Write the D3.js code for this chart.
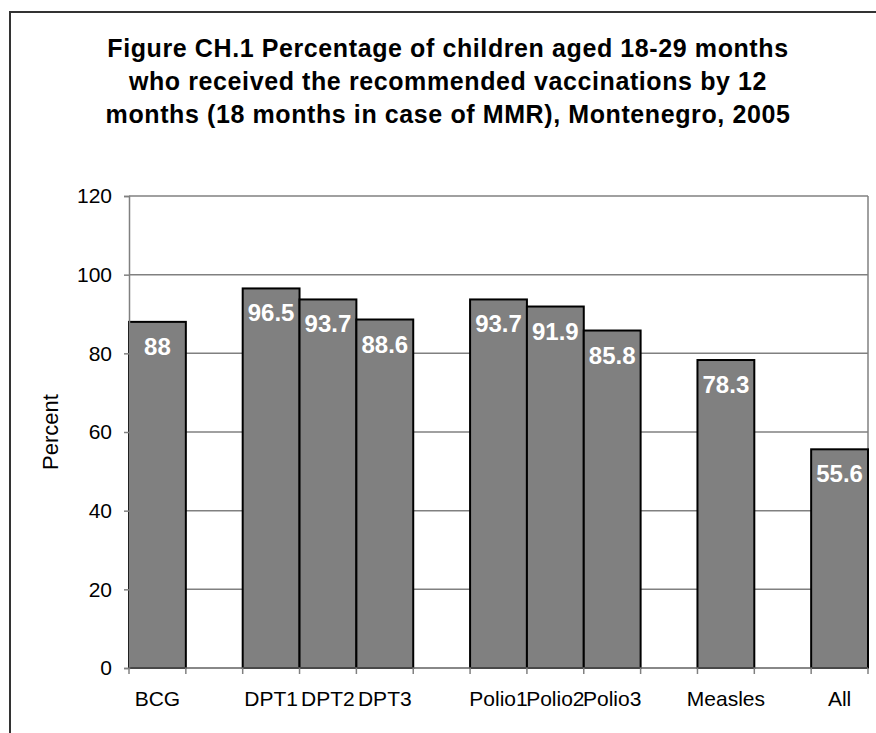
<!DOCTYPE html>
<html>
<head>
<meta charset="utf-8">
<script src="https://cdn.jsdelivr.net/npm/d3@7"></script>
<style>
  body { margin: 0; background: #fff; }
  text { font-family: "Liberation Sans", Arial, sans-serif; }
</style>
</head>
<body>
<svg id="container"></svg>
<script>
const titleLines = [
    'Figure CH.1 Percentage of children aged 18-29 months',
    'who received the recommended vaccinations by 12',
    'months (18 months in case of MMR), Montenegro, 2005'
];
// blank slots are the gaps between groups
const categories = ['BCG', '', 'DPT1', 'DPT2', 'DPT3', '', 'Polio1', 'Polio2', 'Polio3', '', 'Measles', '', 'All'];
const values = [88, null, 96.5, 93.7, 88.6, null, 93.7, 91.9, 85.8, null, 78.3, null, 55.6];
const yTicks = [0, 20, 40, 60, 80, 100, 120];

const width = 876;
const height = 733;
const margin = {left: 129, right: 8, top: 196, bottom: 65};

const svg = d3.select('#container')
    .attr('width', width)
    .attr('height', height);

// outer frame
svg.append('rect')
    .attr('x', 10).attr('y', 12)
    .attr('width', width).attr('height', height)
    .attr('fill', 'none')
    .attr('stroke', '#333')
    .attr('stroke-width', 2);

svg.append('text')
    .attr('text-anchor', 'middle')
    .attr('font-weight', 'bold')
    .attr('font-size', 25)
    .attr('letter-spacing', 0.6)
    .selectAll('tspan')
    .data(titleLines)
    .enter()
    .append('tspan')
    .attr('x', 448)
    .attr('y', (d, i) => 57 + i * 33)
    .text(d => d);

const x = d3.scaleBand()
    .domain(d3.range(categories.length))
    .range([margin.left, width - margin.right]);

const y = d3.scaleLinear()
    .domain([0, 120])
    .range([height - margin.bottom, margin.top]);

// gridlines
svg.append('g')
    .selectAll('line')
    .data(yTicks.filter(t => t > 0))
    .enter()
    .append('line')
    .attr('x1', margin.left)
    .attr('x2', width - margin.right)
    .attr('y1', d => y(d))
    .attr('y2', d => y(d))
    .attr('stroke', '#808080')
    .attr('stroke-width', 1.5);

// right edge of plot area
svg.append('line')
    .attr('x1', width - margin.right).attr('x2', width - margin.right)
    .attr('y1', y(120)).attr('y2', y(0))
    .attr('stroke', '#808080')
    .attr('stroke-width', 1.5);

const data = categories.map((c, i) => ({i: i, name: c, value: values[i]}));

svg.append('g')
    .selectAll('rect')
    .data(data.filter(d => d.value !== null))
    .enter()
    .append('rect')
    .attr('x', d => x(d.i))
    .attr('width', x.bandwidth())
    .attr('y', d => y(d.value))
    .attr('height', d => y(0) - y(d.value))
    .attr('fill', '#808080')
    .attr('stroke', '#000')
    .attr('stroke-width', 2);

svg.append('g')
    .selectAll('text')
    .data(data.filter(d => d.value !== null))
    .enter()
    .append('text')
    .attr('x', d => x(d.i) + x.bandwidth() / 2)
    .attr('y', d => y(d.value) + 33)
    .attr('text-anchor', 'middle')
    .attr('font-weight', 'bold')
    .attr('font-size', 24)
    .attr('fill', '#fff')
    .text(d => d.value);

// y axis
const yAxis = svg.append('g')
    .attr('transform', 'translate(' + margin.left + ',0)')
    .call(d3.axisLeft(y).tickValues(yTicks).tickSize(5).tickPadding(12));
yAxis.select('.domain').attr('stroke', '#808080').attr('stroke-width', 1.5);
yAxis.selectAll('.tick line').attr('stroke', '#808080').attr('stroke-width', 1.5);
yAxis.selectAll('.tick text')
    .attr('font-size', 21)
    .attr('font-family', '"Liberation Sans", Arial, sans-serif')
    .attr('fill', '#000');

// x axis: ticks on slot boundaries
const xg = svg.append('g');
xg.append('line')
    .attr('x1', margin.left).attr('x2', width - margin.right)
    .attr('y1', y(0)).attr('y2', y(0))
    .attr('stroke', '#606060')
    .attr('stroke-width', 1.5);
xg.selectAll('line.tick')
    .data(d3.range(categories.length + 1))
    .enter()
    .append('line')
    .attr('class', 'tick')
    .attr('x1', d => margin.left + d * x.step())
    .attr('x2', d => margin.left + d * x.step())
    .attr('y1', y(0))
    .attr('y2', y(0) + 6)
    .attr('stroke', '#808080')
    .attr('stroke-width', 1.5);
xg.selectAll('text')
    .data(data)
    .enter()
    .append('text')
    .attr('x', d => x(d.i) + x.bandwidth() / 2)
    .attr('y', y(0) + 38)
    .attr('text-anchor', 'middle')
    .attr('font-size', 21)
    .text(d => d.name);

svg.append('text')
    .attr('transform', 'translate(58,' + y(60) + ') rotate(-90)')
    .attr('text-anchor', 'middle')
    .attr('font-size', 22)
    .text('Percent');
</script>
</body>
</html>
